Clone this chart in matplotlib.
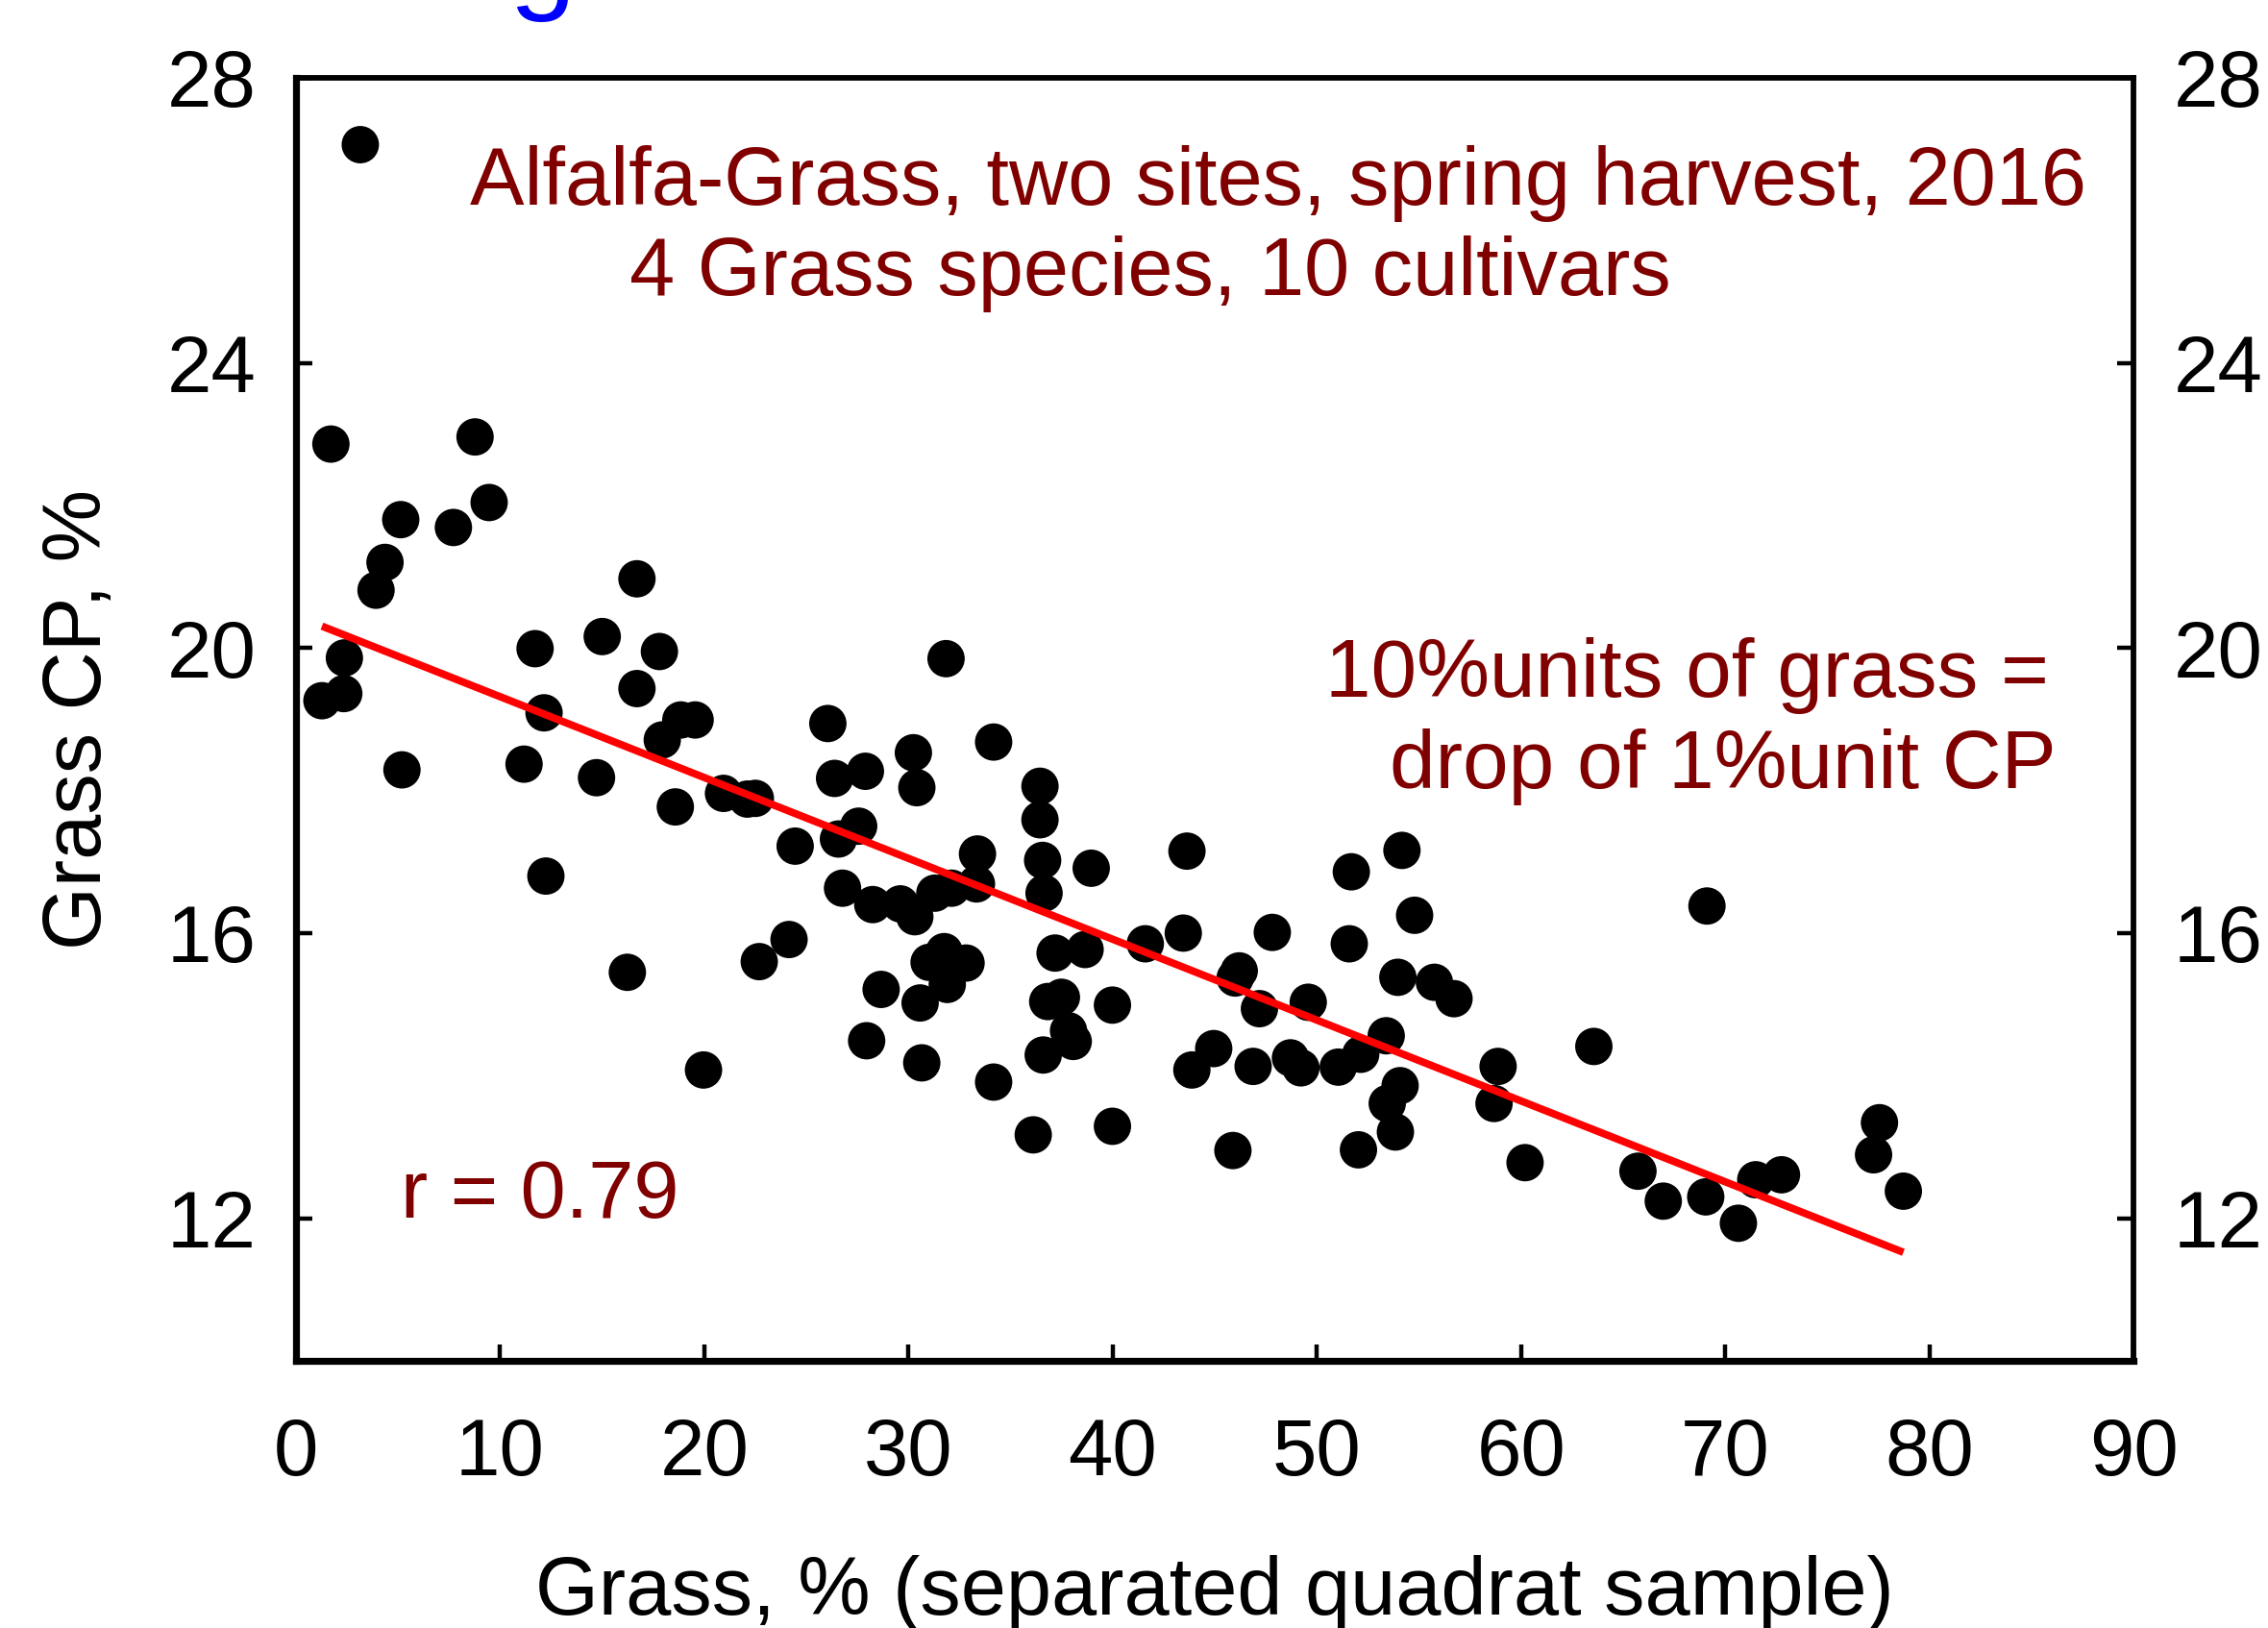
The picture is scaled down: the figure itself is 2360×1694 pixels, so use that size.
import numpy as np
import matplotlib
matplotlib.use("Agg")
import matplotlib.pyplot as plt

plt.rcParams['font.family'] = ['Liberation Sans', 'DejaVu Sans']

# Grass, % (separated quadrat sample)
grass_pct = [3.15, 1.71, 8.77, 9.46, 5.13, 7.71, 4.36, 3.92, 16.70, 15.00,
             11.71, 17.80, 2.37, 16.70, 2.34, 1.27, 12.15, 17.94, 18.85, 19.55,
             20.94, 22.11, 22.50, 5.19, 11.17, 14.72, 18.58, 12.24, 16.23, 19.96,
             31.84, 26.05, 34.17, 30.24, 30.41, 26.38, 27.89, 36.44, 36.44, 36.57,
             36.64, 38.95, 27.56, 26.57, 24.45, 33.38, 33.33, 26.77, 28.25, 29.60,
             30.31, 31.29, 32.11, 24.15, 22.69, 31.75, 31.01, 32.82, 31.90, 28.66,
             30.57, 27.95, 30.65, 34.17, 37.18, 38.65, 36.82, 37.49, 37.84, 38.07,
             36.60, 39.99, 36.11, 39.99, 41.60,
             43.64, 51.69, 54.17, 54.79, 43.46, 47.82, 51.59, 46.20, 46.00, 47.19,
             49.58, 53.97, 55.76, 56.72, 53.40, 52.15, 44.95, 43.88, 46.88, 48.71,
             49.22, 51.05, 54.08, 53.45, 53.85, 52.04, 45.89, 58.88, 58.68, 60.20,
             69.11, 63.57, 65.73, 66.97, 69.05, 70.65, 71.50, 72.76, 77.56, 77.27,
             78.73]
# Grass CP, %
grass_cp = [27.06, 22.86, 22.96, 22.04, 21.80, 21.69, 21.20, 20.81, 20.97, 20.16,
            19.99, 19.95, 19.86, 19.43, 19.36, 19.26, 19.09, 18.71, 18.99, 18.99,
            17.96, 17.88, 17.89, 18.29, 18.37, 18.18, 17.77, 16.80, 15.45, 14.08,
            19.85, 18.94, 18.68, 18.53, 18.04, 18.17, 18.27, 18.06, 17.59, 17.02,
            16.56, 16.91, 17.50, 17.32, 17.22, 17.11, 16.69, 16.63, 16.40, 16.41,
            16.23, 16.56, 16.63, 15.91, 15.60, 15.74, 15.59, 15.58, 15.28, 15.21,
            15.02, 14.49, 14.18, 13.91, 15.72, 15.77, 15.04, 15.10, 14.63, 14.48,
            14.29, 14.99, 13.17, 13.29, 15.85,
            17.15, 16.86, 17.16, 16.25, 16.00, 16.01, 15.85, 15.47, 15.37, 14.94,
            15.03, 15.38, 15.31, 15.08, 14.56, 14.30, 14.38, 14.08, 14.13, 14.25,
            14.11, 14.12, 13.86, 13.61, 13.21, 12.96, 12.95, 14.13, 13.61, 12.78,
            16.38, 14.41, 12.66, 12.24, 12.30, 11.93, 12.54, 12.61, 13.34, 12.89,
            12.38]

# regression line
fit_intercept = 20.45
fit_slope = -0.1134

x_ticks = [0, 10, 20, 30, 40, 50, 60, 70, 80, 90]
y_ticks = [12, 16, 20, 24, 28]

W, H = 2360, 1694
fig = plt.figure(figsize=(W / 200, H / 200), dpi=200)
ax = fig.add_axes([308 / W, 1 - 1416 / H, 1912 / W, 1335.2 / H])

ax.scatter(grass_pct, grass_cp, s=196, color='black', edgecolors='none', zorder=2)

xs = np.array([min(grass_pct), max(grass_pct)])
ax.plot(xs, fit_intercept + fit_slope * xs, color='#ff0000', lw=2.8, zorder=3,
        solid_capstyle='butt')

ax.set_xlim(0, 90)
ax.set_ylim(10, 28)
ax.set_xticks(x_ticks)
ax.set_yticks(y_ticks)

for side in ['left', 'bottom']:
    ax.spines[side].set_linewidth(2.6)
for side in ['top', 'right']:
    ax.spines[side].set_linewidth(2.1)

ax.tick_params(axis='both', which='major', direction='in', length=6.2, width=1.6,
               labelsize=30, colors='black')
ax.tick_params(axis='y', left=True, right=True, labelleft=True, labelright=True, pad=15)
ax.tick_params(axis='x', top=False, bottom=True, pad=21)

ax.set_xlabel('Grass, % (separated quadrat sample)', fontsize=30.5)
ax.set_ylabel('Grass CP, %', fontsize=30.5)
ax.xaxis.set_label_coords(0.5, -0.151)
ax.yaxis.set_label_coords(-0.097, 0.5)

dark_red = '#800000'
ax.text(0.0947, 0.9012, 'Alfalfa-Grass, two sites, spring harvest, 2016',
        transform=ax.transAxes, fontsize=30.5, color=dark_red, va='baseline', ha='left')
ax.text(0.1815, 0.8308, '4 Grass species, 10 cultivars',
        transform=ax.transAxes, fontsize=30.5, color=dark_red, va='baseline', ha='left')
ax.text(0.954, 0.5175, '10%units of grass =',
        transform=ax.transAxes, fontsize=30.8, color=dark_red, va='baseline', ha='right')
ax.text(0.958, 0.4464, 'drop of 1%unit CP',
        transform=ax.transAxes, fontsize=30.8, color=dark_red, va='baseline', ha='right')
ax.text(0.0569, 0.1114, 'r = 0.79',
        transform=ax.transAxes, fontsize=30.5, color=dark_red, va='baseline', ha='left')

# partially visible blue title glyph at top edge
fig.text(0.2246, 1.0018, 'g', color='#0000ff', fontsize=45, va='baseline', ha='left')

fig.savefig('out.png', dpi=200)
